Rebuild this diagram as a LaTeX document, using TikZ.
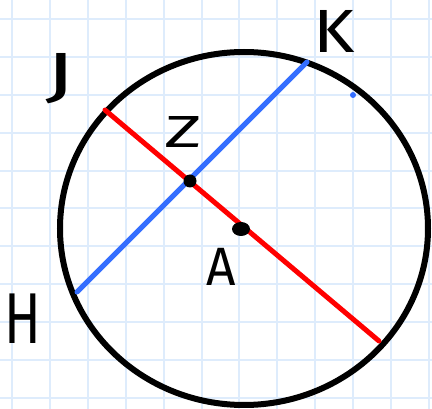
\documentclass[tikz,border=0pt]{standalone}
\usepackage{fontspec}
\setsansfont{Fira Sans}
\usetikzlibrary{shapes.geometric}
\definecolor{gpgrid}{RGB}{222,236,252}
\definecolor{gpred}{RGB}{255,0,0}
\definecolor{gpblue}{RGB}{52,110,255}

\begin{document}
\begin{tikzpicture}[x=1pt, y=-1pt,
  gridline/.style={draw=gpgrid, line width=2pt},
  rim/.style={draw=black, line width=6pt},
  diam/.style={draw=gpred, line width=5pt, line cap=round},
  chord/.style={draw=gpblue, line width=5pt, line cap=round},
  dot/.style={fill=black, inner sep=0pt, draw=none},
  lbl/.style={inner sep=0pt, font=\sffamily\fontsize{#1}{#1}\selectfont}
]
  \useasboundingbox (0,0) rectangle (432,409);
  \fill[white] (0,0) rectangle (432,409);

  % grid paper
  \foreach \i in {0,...,11} {
    \draw[gridline] (12+37.9*\i,0) -- (12+37.9*\i,409);
  }
  \foreach \j in {0,...,10} {
    \draw[gridline] (0,19+37.9*\j) -- (432,19+37.9*\j);
  }

  % the circle
  \draw[rim] (244,228.5) ellipse [x radius=184, y radius=176.5];

  % ends of the two chords
  \coordinate (J) at (105,110);
  \coordinate (R) at (379,341);
  \coordinate (K) at (307,62);
  \coordinate (H) at (77,292);

  \draw[diam] (J) -- (R);
  \draw[chord] (K) -- (H);

  % marked points
  \node[dot, circle, minimum size=13pt] (Zdot) at (190,181) {};
  \node[dot, ellipse, minimum width=18pt, minimum height=14pt] (Adot) at (241,229) {};
  \node[circle, fill=gpblue, inner sep=0pt, minimum size=6pt] (Kdot) at (353,95) {};

  % labels
  \node[lbl=61] (Jl) at (60,79) {\scalebox{1.6}[1]{J}};
  \node[lbl=61] (Kl) at (334,31) {\scalebox{1.15}[1]{K}};
  \node[lbl=45] (Zl) at (183,132) {\scalebox{1.6}[1]{Z}};
  \node[lbl=54] (Al) at (221,267) {\scalebox{0.95}[1]{A}};
  \node[lbl=72] (Hl) at (23,319) {\scalebox{0.75}[1]{H}};
\end{tikzpicture}
\end{document}
